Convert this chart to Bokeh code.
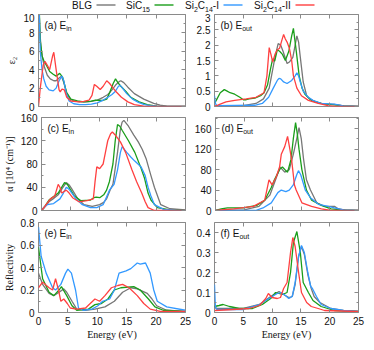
from bokeh.plotting import figure
from bokeh.layouts import column, row
from bokeh.models import Range1d, LinearAxis, FixedTicker, CustomJSTickFormatter, Label, Div
from bokeh.embed import file_html
from bokeh.resources import INLINE

# ---------------- data ----------------
SERIES = ["BLG", "SiC15", "Si2C14-I", "Si2C14-II"]
COLORS = ["#777777", "#1a9e1a", "#3399ff", "#ff4040"]

x_ticks = [0, 5, 10, 15, 20, 25]
x_tick_labels = ["0", "5", "10", "15", "20", "25"]

# (a) eps2, E in-plane
a_blg_e = [0.05,0.2,0.4,0.7,1.0,1.5,2.0,2.6,3.0,3.5,3.9,4.3,4.8,5.4,6.0,7.0,8.0,9.0,10.0,11.0,11.8,12.5,13.2,13.7,14.0,14.5,15.2,16.3,17.9,19.6,20.7,21.8,23.0,25.0]
a_blg_v = [12.0,8.5,6.6,5.2,4.3,3.4,3.0,2.8,2.8,3.1,3.3,2.6,1.4,0.8,0.6,0.5,0.5,0.55,0.7,1.0,1.3,1.8,2.4,2.7,2.8,2.6,2.1,1.4,0.8,0.35,0.15,0.05,0.02,0.0]
a_sic_e = [0.05,0.3,0.6,0.9,1.4,1.9,2.5,3.0,3.6,4.1,4.8,5.5,6.6,7.7,8.8,9.7,10.8,11.6,12.1,12.7,13.1,13.5,14.0,14.9,15.7,17.1,18.5,20.1,21.7,25.0]
a_sic_v = [12.0,7.2,5.5,5.0,4.4,3.8,3.5,3.3,3.6,3.2,1.5,0.8,0.6,0.5,0.55,0.7,0.65,0.8,1.5,2.5,3.0,2.6,2.2,1.6,1.0,0.5,0.2,0.05,0.0,0.0]
a_si1_e = [0.05,0.3,0.6,0.9,1.3,1.8,2.5,3.0,3.5,4.0,4.3,4.7,5.2,6.0,7.0,8.0,9.0,10.0,11.0,11.8,12.5,13.0,13.6,13.9,14.3,15.0,16.0,17.0,18.0,19.0,20.0,21.0,25.0]
a_si1_v = [12.0,6.0,4.0,3.0,2.2,1.8,1.7,2.0,2.8,3.3,2.8,1.5,0.6,0.3,0.2,0.2,0.25,0.4,0.7,1.0,1.3,1.6,2.2,2.3,2.0,1.4,0.8,0.45,0.2,0.1,0.03,0.0,0.0]
a_si2_e = [0.0,0.3,0.8,1.1,1.65,1.9,2.4,2.6,3.0,3.5,3.7,4.0,4.4,4.8,5.5,6.9,7.7,8.6,9.1,9.5,9.9,10.5,11.0,11.6,12.1,12.7,13.2,14.1,15.2,16.3,17.9,19.5,25.0]
a_si2_v = [0.0,2.0,4.5,4.9,4.3,4.0,5.5,5.9,4.0,1.8,1.6,1.9,1.8,1.0,0.6,0.5,0.55,0.7,1.2,2.4,2.2,1.85,2.2,2.8,2.5,2.0,1.6,1.0,0.5,0.2,0.05,0.0,0.0]

# (b) eps2, E out-of-plane
b_blg_e = [0.0,5.0,7.2,8.5,9.5,10.1,10.5,11.05,11.5,11.9,12.6,13.0,13.6,14.0,14.3,14.6,14.9,15.4,16.0,16.5,17.5,19.1,20.8,22.4,25.0]
b_blg_v = [0.02,0.03,0.1,0.25,0.6,1.2,1.6,2.05,2.0,1.8,1.4,1.45,1.6,2.0,2.3,2.1,1.6,0.8,0.35,0.25,0.15,0.08,0.07,0.02,0.0]
b_sic_e = [0.0,0.3,1.0,1.7,2.2,2.7,3.5,4.4,5.0,5.5,6.0,7.0,8.0,8.6,9.2,9.7,10.1,10.45,10.9,11.3,11.8,12.3,12.9,13.4,13.7,14.2,14.7,15.2,15.7,16.8,18.5,20.8,22.5,25.0]
b_sic_v = [0.1,0.2,0.45,0.55,0.5,0.45,0.4,0.3,0.22,0.22,0.25,0.27,0.35,0.45,0.7,1.2,1.55,1.48,1.85,1.8,1.7,1.5,1.8,2.3,2.55,1.8,1.0,0.6,0.4,0.2,0.1,0.05,0.02,0.0]
b_si1_e = [0.0,0.15,0.4,7.0,8.3,9.4,10.2,10.9,11.2,11.5,12.0,12.6,13.4,14.0,14.3,14.6,14.9,15.4,16.3,17.1,18.5,20.8,22.4,25.0]
b_si1_v = [0.35,0.1,0.03,0.04,0.1,0.3,0.6,0.85,0.92,0.9,0.8,0.75,0.85,1.0,1.1,1.0,0.8,0.5,0.3,0.2,0.1,0.08,0.02,0.0]
b_si2_e = [0.0,1.0,2.0,3.5,5.5,7.2,8.6,9.1,9.5,9.8,10.1,10.5,10.9,11.3,11.6,12.0,12.3,12.6,13.0,13.4,13.7,14.3,15.1,16.3,18.0,19.7,21.0,25.0]
b_si2_v = [0.0,0.08,0.15,0.2,0.25,0.3,0.45,1.0,1.92,1.7,1.45,1.7,1.85,1.9,2.1,2.35,2.2,2.1,1.9,1.5,1.0,0.6,0.35,0.2,0.1,0.03,0.0,0.0]

# (c) absorption, E in-plane
c_blg_e = [0.0,0.5,1.3,2.0,2.9,3.6,4.3,4.8,5.2,6.3,7.4,8.8,10.1,10.8,11.3,11.9,12.4,13.2,13.7,14.0,14.3,15.1,16.0,16.8,17.5,18.2,19.0,19.6,20.7,22.3,25.0]
c_blg_v = [0,5,15,20,27,38,48,44,38,20,10,7,10,14,20,35,45,100,140,152,155,145,130,118,105,88,60,40,10,3,1]
c_sic_e = [0.0,0.5,1.3,2.9,3.5,4.0,4.5,4.9,5.7,6.8,8.5,9.1,9.5,10.1,10.8,11.3,11.8,12.4,12.8,13.2,13.6,14.0,15.1,16.2,17.2,17.9,18.5,19.0,20.1,22.3,25.0]
c_sic_v = [0,6,18,30,40,48,45,38,25,17,18,22,23,22,27,35,50,80,120,148,145,138,120,100,75,55,30,18,5,1,0]
c_si1_e = [0.0,0.5,1.0,2.1,3.2,3.8,4.3,4.6,4.9,6.0,7.1,8.5,9.6,10.7,11.8,12.6,13.2,13.7,14.0,14.8,15.5,16.2,17.3,18.0,18.5,19.0,19.6,21.2,23.5,25.0]
c_si1_v = [0,6,10,12,20,30,40,38,35,20,10,5,5,10,35,45,70,100,110,100,92,85,75,60,40,25,10,2,0,0]
c_si2_e = [0.0,0.5,1.55,2.3,2.9,3.2,3.5,4.3,4.8,5.4,6.5,7.9,9.0,9.3,9.6,10.1,10.7,11.1,11.5,12.0,12.3,12.8,13.7,14.6,15.7,16.5,17.4,18.0,18.5,19.6,25.0]
c_si2_v = [0,6,20,25,45,40,30,35,30,22,15,17,20,50,75,72,80,100,120,132,135,130,118,100,70,50,30,15,5,0,0]

# (d) absorption, E out-of-plane
d_blg_e = [0.0,5.0,7.6,9.5,10.5,11.3,11.7,12.1,12.9,13.6,14.2,14.6,15.0,15.4,15.9,16.6,17.7,19.1,20.8,21.5,23.0,25.0]
d_blg_v = [0,1,8,30,60,85,80,75,80,110,140,162,140,100,60,40,15,8,8,3,0,0]
d_sic_e = [0.0,1.0,2.1,4.9,7.2,8.6,9.75,10.3,11.2,11.7,12.3,12.6,13.2,13.6,14.0,14.3,14.6,15.1,15.9,16.8,18.5,20.2,22.4,25.0]
d_sic_v = [0,3,5,5,10,20,45,60,80,85,78,75,100,140,172,150,120,80,40,20,10,3,1,0]
d_si1_e = [0.0,7.0,8.3,9.75,10.9,11.5,12.3,12.9,13.6,14.2,14.5,14.9,15.7,16.6,18.0,19.7,20.8,22.4,25.0]
d_si1_v = [0,0,5,15,35,40,37,40,50,70,78,70,40,25,12,8,5,1,0]
d_si2_e = [0.0,3.2,6.6,8.6,9.35,9.9,10.6,11.2,11.5,12.1,12.6,13.0,13.3,13.8,14.1,15.1,16.8,18.5,20.2,25.0]
d_si2_v = [0,3,8,20,60,50,65,85,110,125,145,120,100,50,40,15,8,3,0,0]

# (e) reflectivity, E in-plane
e_blg_e = [0.0,0.7,1.8,2.6,3.5,4.3,4.8,5.7,6.5,8.0,9.6,11.3,12.9,14.3,15.7,16.8,18.5,19.3,20.1,21.8,25.0]
e_blg_v = [0.35,0.25,0.17,0.15,0.18,0.21,0.18,0.1,0.03,0.02,0.03,0.05,0.1,0.18,0.22,0.21,0.17,0.12,0.06,0.02,0.01]
e_sic_e = [0.0,0.7,1.8,2.6,3.5,3.9,4.8,5.7,6.5,8.5,9.6,10.7,11.8,12.9,14.0,16.2,17.3,18.7,19.8,21.2,25.0]
e_sic_v = [0.58,0.3,0.18,0.15,0.2,0.23,0.15,0.06,0.02,0.03,0.07,0.08,0.12,0.2,0.22,0.23,0.2,0.12,0.05,0.02,0.01]
e_si1_e = [0.0,0.45,1.3,2.4,2.9,3.8,4.6,5.0,5.6,6.3,6.8,7.6,9.1,10.1,10.9,12.1,12.9,13.7,14.9,15.7,16.8,17.3,18.2,19.0,19.6,20.2,21.8,25.0]
e_si1_v = [0.76,0.5,0.35,0.22,0.2,0.25,0.35,0.385,0.35,0.2,0.04,0.02,0.03,0.06,0.1,0.12,0.2,0.35,0.37,0.39,0.44,0.43,0.44,0.35,0.2,0.1,0.05,0.02]
e_si2_e = [0.0,0.7,1.8,2.4,2.9,3.4,3.8,4.3,4.9,5.4,6.5,8.0,9.6,10.4,11.3,12.4,13.5,14.3,15.4,16.8,17.9,19.0,20.7,25.0]
e_si2_v = [0.22,0.27,0.22,0.2,0.3,0.2,0.1,0.12,0.08,0.04,0.03,0.04,0.12,0.1,0.15,0.22,0.24,0.25,0.22,0.15,0.08,0.03,0.01,0.01]

# (f) reflectivity, E out-of-plane
f_blg_e = [0.0,0.3,5.0,7.8,10.0,11.2,12.0,12.9,13.5,14.0,14.6,15.1,15.6,16.2,16.8,17.3,18.3,20.2,22.4,25.0]
f_blg_v = [0.03,0.02,0.02,0.04,0.085,0.105,0.09,0.075,0.08,0.14,0.28,0.33,0.29,0.19,0.12,0.08,0.05,0.02,0.01,0.005]
f_sic_e = [0.0,0.8,1.5,2.6,4.3,6.6,8.3,9.75,10.6,11.8,12.6,13.2,13.7,14.3,14.9,15.4,16.3,17.1,18.5,20.8,25.0]
f_sic_v = [0.03,0.035,0.04,0.03,0.02,0.02,0.04,0.07,0.1,0.09,0.1,0.2,0.35,0.405,0.3,0.15,0.1,0.06,0.03,0.01,0.005]
f_si1_e = [0.0,0.15,0.4,5.0,5.5,7.8,8.9,10.0,10.9,11.5,12.3,12.9,13.5,14.0,14.6,15.1,15.6,16.2,16.7,17.0,17.7,18.5,20.2,22.4,25.0]
f_si1_v = [0.14,0.03,0.015,0.015,0.02,0.04,0.06,0.08,0.095,0.1,0.085,0.07,0.08,0.15,0.28,0.335,0.3,0.2,0.13,0.12,0.08,0.04,0.02,0.01,0.005]
f_si2_e = [0.0,3.2,6.0,7.8,8.9,9.35,10.0,10.9,11.45,12.0,12.6,13.2,13.6,14.0,14.6,15.1,16.0,16.8,18.0,19.1,25.0]
f_si2_v = [0.01,0.015,0.02,0.035,0.07,0.095,0.075,0.07,0.075,0.12,0.15,0.3,0.375,0.33,0.2,0.1,0.05,0.03,0.02,0.01,0.005]

a_yticks = [0, 2, 4, 6, 8, 10];            a_yminor = [1, 3, 5, 7, 9]
b_yticks = [0, 0.5, 1, 1.5, 2, 2.5, 3];    b_yminor = [0.25, 0.75, 1.25, 1.75, 2.25, 2.75]
c_yticks = [0, 40, 80, 120, 160];          c_yminor = [20, 60, 100, 140]
d_yticks = [0, 40, 80, 120, 160];          d_yminor = [20, 60, 100, 140, 180]
e_yticks = [0, 0.2, 0.4, 0.6, 0.8];        e_yminor = [0.1, 0.3, 0.5, 0.7]
f_yticks = [0, 0.1, 0.2, 0.3, 0.4];        f_yminor = [0.05, 0.15, 0.25, 0.35]

# ---------------- style / layout ----------------
FRAME = "#8a8a8a"
TXT = "#111111"
SANS = "Liberation Sans"
SERIF = "Liberation Serif"

ARIAL = {" ": 278, "(": 333, ")": 333, "-": 333, "A": 667, "B": 667, "C": 722, "E": 667,
         "G": 778, "I": 278, "L": 556, "S": 667, "a": 556, "b": 556, "c": 500, "d": 556,
         "e": 556, "f": 278, "i": 222, "n": 556, "o": 556, "t": 278, "u": 556}


def tw(s, size):
    return sum(ARIAL.get(ch, 556) for ch in s) * size / 1000.0


def add_pieces(p, x, y, pieces, xoff, yoff):
    for txt, size, dy in pieces:
        p.add_layout(Label(x=x, y=y, x_offset=xoff, y_offset=yoff + dy, text=txt,
                           text_font=SANS, text_font_size=f"{size}px", text_color=TXT,
                           text_baseline="alphabetic", text_align="left"))
        xoff += tw(txt, size)
    return xoff


FMT = CustomJSTickFormatter(code="return String(Math.round(tick*10000)/10000);")


def base_axis(ax):
    ax.axis_line_color = None
    ax.major_tick_in = 4
    ax.major_tick_out = 0
    ax.minor_tick_in = 2
    ax.minor_tick_out = 0
    ax.major_tick_line_color = FRAME
    ax.minor_tick_line_color = FRAME
    return ax


def label_axis(ticker, formatter=None, title=None, title_standoff=3):
    ax = base_axis(LinearAxis(ticker=ticker))
    if formatter is not None:
        ax.formatter = formatter
    ax.major_label_text_font = SANS
    ax.major_label_text_font_size = "10px"
    ax.major_label_text_color = TXT
    ax.major_label_standoff = 4
    if title:
        ax.axis_label = title
        ax.axis_label_text_font = SERIF
        ax.axis_label_text_font_style = "normal"
        ax.axis_label_text_font_size = "10px"
        ax.axis_label_text_color = TXT
        ax.axis_label_standoff = title_standoff
    return ax


def tick_only_axis(positions, length):
    ax = LinearAxis(ticker=FixedTicker(ticks=[], minor_ticks=positions))
    ax.axis_line_color = None
    ax.major_tick_in = 0
    ax.major_tick_out = 0
    ax.minor_tick_in = length
    ax.minor_tick_out = 0
    ax.minor_tick_line_color = FRAME
    ax.major_label_standoff = 0
    return ax


def panel(width, height, ymax, yticks, yminor, borders, xlabels, ylabel, tag, sub, series):
    bl, br, bt, bb = borders
    p = figure(width=width, height=height, x_range=Range1d(0, 25), y_range=Range1d(0, ymax),
               toolbar_location=None, output_backend="svg",
               x_axis_location=None, y_axis_location=None,
               min_border_left=bl, min_border_right=br, min_border_top=bt, min_border_bottom=bb)
    p.grid.visible = False
    p.outline_line_color = FRAME
    p.outline_line_width = 1
    p.background_fill_color = "white"
    p.border_fill_color = "white"

    yt = FixedTicker(ticks=yticks, minor_ticks=yminor)
    p.add_layout(label_axis(yt, FMT, ylabel, 3), "left")

    if xlabels:
        xa = label_axis(FixedTicker(ticks=x_ticks, minor_ticks=[]), None, "Energy (eV)", 1)
        xa.major_label_overrides = {t: l for t, l in zip(x_ticks, x_tick_labels)}
        p.add_layout(xa, "below")
    else:
        p.add_layout(tick_only_axis(x_ticks, 4), "below")
    p.add_layout(tick_only_axis(x_ticks, 4), "above")
    p.add_layout(tick_only_axis(yticks, 4), "right")
    p.add_layout(tick_only_axis(yminor, 2), "right")

    for (xs, ys), col in zip(series, COLORS):
        p.line(xs, ys, line_color=col, line_width=1.3)

    add_pieces(p, 0, ymax, [(tag, 10, 0), (sub, 7, -2.5)], 6, -11)
    return p


LW, RW = 191, 175
LB = (38, 6)
RB = (23, 8)
H1, H2, H3 = 99, 104, 126
V1, V2, V3 = (1, 6), (5, 6), (6, 29)

pa = panel(LW, H1, 10, a_yticks, a_yminor, LB + V1, False, "ε₂", "(a) E", "in",
           [(a_blg_e, a_blg_v), (a_sic_e, a_sic_v), (a_si1_e, a_si1_v), (a_si2_e, a_si2_v)])
pb = panel(RW, H1, 3, b_yticks, b_yminor, RB + V1, False, None, "(b) E", "out",
           [(b_blg_e, b_blg_v), (b_sic_e, b_sic_v), (b_si1_e, b_si1_v), (b_si2_e, b_si2_v)])
pc = panel(LW, H2, 160, c_yticks, c_yminor, LB + V2, False, "α [10⁴ (cm⁻¹)]", "(c) E", "in",
           [(c_blg_e, c_blg_v), (c_sic_e, c_sic_v), (c_si1_e, c_si1_v), (c_si2_e, c_si2_v)])
pd = panel(RW, H2, 182, d_yticks, d_yminor, RB + V2, False, None, "(d) E", "out",
           [(d_blg_e, d_blg_v), (d_sic_e, d_sic_v), (d_si1_e, d_si1_v), (d_si2_e, d_si2_v)])
pe = panel(LW, H3, 0.8, e_yticks, e_yminor, LB + V3, True, "Reflectivity", "(e) E", "in",
           [(e_blg_e, e_blg_v), (e_sic_e, e_sic_v), (e_si1_e, e_si1_v), (e_si2_e, e_si2_v)])
pf = panel(RW, H3, 0.45, f_yticks, f_yminor, RB + V3, True, None, "(f) E", "out",
           [(f_blg_e, f_blg_v), (f_sic_e, f_sic_v), (f_si1_e, f_si1_v), (f_si2_e, f_si2_v)])

# ---------------- legend header (HTML) ----------------
HW, HH = LW + RW, 13
legend_html_names = [
    "BLG",
    "SiC<sub>15</sub>",
    "Si<sub>2</sub>C<sub>14</sub>-I",
    "Si<sub>2</sub>C<sub>14</sub>-II",
]
legend_x = [72, 126, 185, 254]
SUB_CSS = "font-size:7px;vertical-align:-2.5px;line-height:0"
items = []
for name, x0, col in zip(legend_html_names, legend_x, COLORS):
    nm = name.replace("<sub>", f'<sub style="{SUB_CSS}">')
    swatch = (f'<svg width="23" height="4" style="vertical-align:2px;overflow:visible">'
              f'<line x1="4.5" y1="2" x2="23.5" y2="2" stroke="{col}" stroke-width="1.4"/></svg>')
    items.append(
        f'<span style="position:absolute;left:{x0}px;top:0;white-space:nowrap;">{nm}{swatch}</span>'
    )
hdr = Div(text='<div style="position:relative;width:%dpx;height:%dpx;">%s</div>' % (HW, HH, "".join(items)),
          width=HW, height=HH,
          styles={"font-family": SANS, "font-size": "10px", "line-height": "12px",
                  "color": TXT, "margin": "0", "padding": "0", "overflow": "visible"})

layout = column(hdr, row(pa, pb), row(pc, pd), row(pe, pf))
open("out.html", "w").write(file_html(layout, INLINE))
